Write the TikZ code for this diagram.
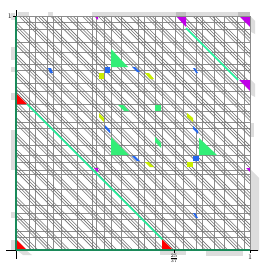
\documentclass[tikz,border=0pt]{standalone}
\usepackage{xcolor}
\definecolor{axgreen}{HTML}{1A8A5A}
\definecolor{lgreen}{HTML}{22EE99}
\definecolor{tgreen}{HTML}{33EE77}
\definecolor{ygreen}{HTML}{C8EE00}
\definecolor{bblue}{HTML}{2266EE}
\definecolor{ppurple}{HTML}{C000E8}
\definecolor{rred}{HTML}{FF0000}
\definecolor{shd}{HTML}{DDDDDD}
\tikzset{
  gridln/.style={draw=black!45, line width=0.7pt},
  diagln/.style={draw=black!55, line width=0.6pt},
  edgeshade/.style={fill=shd, draw=none},
  lbl/.style={inner sep=0pt, font=\fontsize{7}{7}\selectfont},
}
\begin{document}
\begin{tikzpicture}[x=1pt,y=-1pt]
\useasboundingbox (0,0) rectangle (266,273);
\fill[white] (0,0) rectangle (266,273);
% light shades along the edges
\fill[edgeshade] (18,12) rectangle (29,16);
\fill[edgeshade] (48,12) rectangle (53,16);
\fill[edgeshade] (92,12) rectangle (250,16);
\fill[black!25] (176,12) rectangle (186,16);
\fill[black!25] (238,12) rectangle (250,16);
\fill[edgeshade] (11,13) rectangle (15,20);
\fill[edgeshade] (11,47) rectangle (15,60);
\fill[edgeshade] (11,67) rectangle (15,72);
\fill[edgeshade] (11,93) rectangle (15,100);
\fill[edgeshade] (11,130) rectangle (15,170);
\fill[edgeshade] (11,212) rectangle (15,218);
\fill[edgeshade] (11,240) rectangle (15,250);
\fill[edgeshade] (251,17) -- (255,21) -- (255,34) -- (251,32) -- cycle;
\fill[edgeshade] (251,80) -- (255,84) -- (255,97) -- (251,95) -- cycle;
\fill[edgeshade] (251,123) rectangle (254,137);
\fill[edgeshade] (251,170) -- (259,178) -- (259,251) -- (251,250) -- cycle;
\fill[edgeshade] (18,251) -- (27,251) -- (32,255) -- (23,255) -- cycle;
\fill[edgeshade] (160,251) rectangle (186,255);
\fill[edgeshade] (206,251) rectangle (243,256);
% grid of the square
\begin{scope}
\clip (16,16) rectangle (250,250);
\foreach \xx in {29,35,47,53,61,77,92,96,104,111,121,138,144,155,162,175,183,196,202,214,224,237,244}{
  \draw[gridln] (\xx,16) -- (\xx,250);
  \draw[gridln] (16,266-\xx) -- (250,266-\xx);
}
\foreach \k in {-74,...,74}{
  \pgfmathtruncatemacro\kr{mod(\k+150,5)}
  \ifnum\kr>0 \ifnum\kr<4
    \pgfmathsetmacro\dd{\k*3.162}
    \draw[diagln] (\dd-234,-218) -- (\dd+266,282);
  \fi\fi
}
% bright green lines
\draw[lgreen, line width=1.6pt] (27,104) -- (163,240);
\draw[lgreen, line width=1.6pt] (186,28) -- (238,80);
% coloured pieces
\fill[rred] (16,239) -- (16,250) -- (27,250) -- cycle;
\fill[rred] (16,93) -- (16,104) -- (27,104) -- cycle;
\fill[rred] (162,239) -- (162,250) -- (173,250) -- cycle;
\fill[ppurple] (176,16) -- (186,16) -- (186,27) -- cycle;
\fill[ppurple] (239,16) -- (250,16) -- (250,27) -- cycle;
\fill[ppurple] (239,80) -- (250,80) -- (250,91) -- cycle;
\fill[ppurple] (94,16) -- (98,16) -- (98,20) -- cycle;
\fill[ppurple] (94,168) -- (98,168) -- (98,172) -- cycle;
\fill[ppurple] (246,168) -- (250,168) -- (250,172) -- cycle;
\fill[tgreen] (111,49) -- (111,67) -- (128,67) -- cycle;
\fill[tgreen] (111,137) -- (111,155) -- (129,155) -- cycle;
\fill[tgreen] (199,138) -- (199,155) -- (217,155) -- cycle;
\fill[tgreen] (118,105) -- (123,105) -- (129,111) -- (124,111) -- cycle;
\fill[tgreen] (155,105) rectangle (161,111);
\fill[tgreen] (155,137) -- (155,142) -- (161,148) -- (161,143) -- cycle;
\fill[bblue] (105,67) rectangle (110,73);
\fill[bblue] (193,156) rectangle (199,161);
\fill[bblue] (48,68) -- (51,68) -- (53,73) -- (50,73) -- cycle;
\fill[bblue] (132,67) -- (135,67) -- (140,72) -- (137,72) -- cycle;
\fill[bblue] (193,68) -- (195,68) -- (198,73) -- (196,73) -- cycle;
\fill[bblue] (105,125) -- (105,128) -- (110,133) -- (110,130) -- cycle;
\fill[bblue] (193,126) -- (193,129) -- (198,134) -- (198,131) -- cycle;
\fill[bblue] (132,156) -- (135,156) -- (140,161) -- (137,161) -- cycle;
\fill[bblue] (193,213) -- (195,213) -- (198,218) -- (196,218) -- cycle;
\fill[ygreen] (99,73) rectangle (104,79);
\fill[ygreen] (187,162) rectangle (193,167);
\fill[ygreen] (145,73) -- (149,73) -- (154,79) -- (150,79) -- cycle;
\fill[ygreen] (145,162) -- (149,162) -- (154,167) -- (150,167) -- cycle;
\fill[ygreen] (99,113) -- (99,117) -- (104,122) -- (104,118) -- cycle;
\fill[ygreen] (187,113) -- (187,117) -- (193,122) -- (193,118) -- cycle;
\end{scope}
% frame and axes
\draw[black!45, line width=0.8pt] (16,16) -- (250,16) -- (250,250);
\draw[black, line width=0.6pt] (6,250) -- (258,250);
\draw[black, line width=0.6pt] (16,10) -- (16,259);
\draw[axgreen, line width=1.2pt] (16,16) -- (16,250);
\draw[axgreen, line width=1.2pt] (16,250) -- (250,250);
\draw[black, line width=0.4pt] (13,16) -- (16,16);
\draw[black, line width=0.4pt] (174,250) -- (174,253);
\draw[black, line width=0.4pt] (250,250) -- (250,253);
\node[lbl, anchor=east] (yone) at (12,16) {1};
\node[lbl, anchor=north] (xfrac) at (174,254) {$\frac{25}{37}$};
\node[lbl, anchor=north] (xone) at (250,255) {1};
\end{tikzpicture}
\end{document}
